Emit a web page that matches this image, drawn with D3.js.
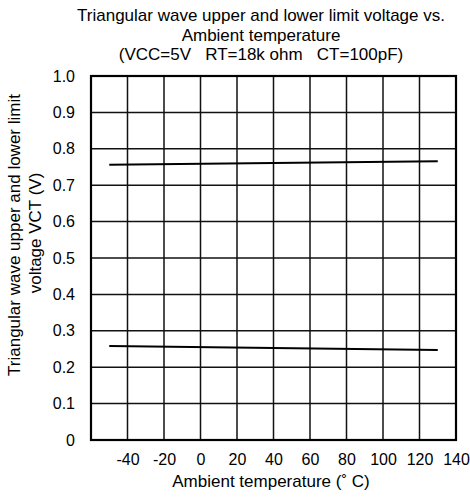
<!DOCTYPE html>
<html>
<head>
<meta charset="utf-8">
<script src="https://cdn.jsdelivr.net/npm/d3@7"></script>
<style>
body { margin: 0; background: #fff; }
text { font-family: "Liberation Sans", Arial, sans-serif; fill: #000; }
</style>
</head>
<body>
<div id="chart"></div>
<script>
// data
var xTicks = [-40, -20, 0, 20, 40, 60, 80, 100, 120, 140];
var yTicks = [0, 0.1, 0.2, 0.3, 0.4, 0.5, 0.6, 0.7, 0.8, 0.9, 1.0];
var temps = [-50, 130];
var upperLimit = [0.756, 0.766];
var lowerLimit = [0.258, 0.247];

var w = 470, h = 497;
var pL = 91, pR = 456, pT = 76, pB = 440;

var svg = d3.select("#chart").append("svg")
	.attr("width", w).attr("height", h);

var x = d3.scaleLinear().domain([-60, 140]).range([pL, pR]);
var y = d3.scaleLinear().domain([0, 1]).range([pB, pT]);

// grid
var gridX = d3.range(-40, 140, 20);
svg.selectAll(".gx").data(gridX).enter().append("line")
	.attr("x1", function(d){ return x(d); })
	.attr("x2", function(d){ return x(d); })
	.attr("y1", pT).attr("y2", pB)
	.attr("stroke", "#111").attr("stroke-width", 1.5);
svg.selectAll(".gy").data(yTicks.slice(1, -1)).enter().append("line")
	.attr("y1", function(d){ return y(d); })
	.attr("y2", function(d){ return y(d); })
	.attr("x1", pL).attr("x2", pR)
	.attr("stroke", "#111").attr("stroke-width", 1.5);

// frame
svg.append("rect")
	.attr("x", pL).attr("y", pT)
	.attr("width", pR - pL).attr("height", pB - pT)
	.attr("fill", "none").attr("stroke", "#000").attr("stroke-width", 2.2);

// axes (labels only)
var xAxis = d3.axisBottom(x).tickValues(xTicks).tickSize(0).tickPadding(14)
	.tickFormat(function(d){ return String(d); });
var gx = svg.append("g").attr("transform", "translate(0," + pB + ")").call(xAxis);
gx.select(".domain").remove();
gx.selectAll("text").attr("font-size", "16px").attr("font-family", null);

var yAxis = d3.axisLeft(y).tickValues(yTicks).tickSize(0).tickPadding(16)
	.tickFormat(function(d){ return d === 0 ? "0" : d.toFixed(1); });
var gy = svg.append("g").attr("transform", "translate(" + pL + ",0)").call(yAxis);
gy.select(".domain").remove();
gy.selectAll("text").attr("font-size", "16px").attr("font-family", null);

// lines
var line = d3.line()
	.x(function(d){ return x(d[0]); })
	.y(function(d){ return y(d[1]); });
[upperLimit, lowerLimit].forEach(function(s){
	svg.append("path")
		.datum(d3.zip(temps, s))
		.attr("d", line)
		.attr("fill", "none")
		.attr("stroke", "#000")
		.attr("stroke-width", 2);
});

// titles
var title = [
	"Triangular wave upper and lower limit voltage vs.",
	"Ambient temperature",
	"(VCC=5V\u00a0\u00a0\u00a0RT=18k ohm\u00a0\u00a0\u00a0CT=100pF)"
];
svg.selectAll(".title").data(title).enter().append("text")
	.attr("x", 261)
	.attr("y", function(d, i){ return 21 + i * 19.5; })
	.attr("text-anchor", "middle")
	.attr("font-size", "17px")
	.text(function(d){ return d; });

svg.append("text")
	.attr("x", 271).attr("y", 487)
	.attr("text-anchor", "middle")
	.attr("font-size", "17px")
	.text("Ambient temperature (\u02da\u00a0C)");

svg.append("text")
	.attr("transform", "translate(20,235) rotate(-90)")
	.attr("text-anchor", "middle")
	.attr("font-size", "17px")
	.text("Triangular wave upper and lower limit");
svg.append("text")
	.attr("transform", "translate(41,233) rotate(-90)")
	.attr("text-anchor", "middle")
	.attr("font-size", "17px")
	.text("voltage VCT (V)");
</script>
</body>
</html>
